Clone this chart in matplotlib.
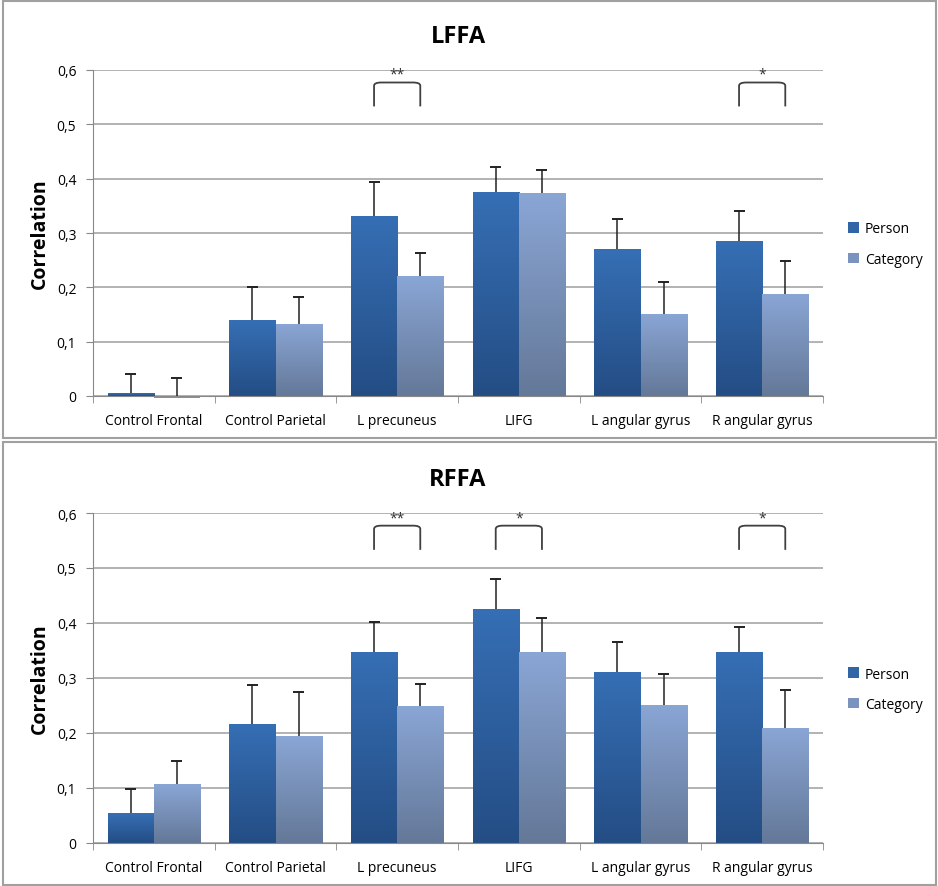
import numpy as np
import matplotlib.pyplot as plt
from matplotlib.patches import Rectangle, PathPatch
from matplotlib.path import Path
from matplotlib.colors import LinearSegmentedColormap

plt.rcParams['font.family'] = ['Open Sans', 'DejaVu Sans']

regions = ["Control Frontal", "Control Parietal", "L precuneus", "LIFG",
           "L angular gyrus", "R angular gyrus"]
yticks = [0, 0.1, 0.2, 0.3, 0.4, 0.5, 0.6]
ytick_labels = ["0", "0,1", "0,2", "0,3", "0,4", "0,5", "0,6"]

# LFFA
lffa_person = [0.005, 0.139, 0.332, 0.376, 0.270, 0.286]
lffa_person_err = [0.035, 0.061, 0.061, 0.045, 0.056, 0.054]
lffa_category = [-0.003, 0.133, 0.220, 0.373, 0.151, 0.188]
lffa_category_err = [0.036, 0.049, 0.043, 0.043, 0.059, 0.060]
lffa_sig = {2: "**", 5: "*"}

# RFFA
rffa_person = [0.054, 0.217, 0.348, 0.426, 0.311, 0.348]
rffa_person_err = [0.045, 0.071, 0.053, 0.054, 0.055, 0.045]
rffa_category = [0.107, 0.194, 0.249, 0.348, 0.251, 0.210]
rffa_category_err = [0.043, 0.080, 0.041, 0.061, 0.057, 0.069]
rffa_sig = {2: "**", 3: "*", 5: "*"}

person_cmap = LinearSegmentedColormap.from_list("p", ["#244d84", "#366fb5"])
category_cmap = LinearSegmentedColormap.from_list("c", ["#647898", "#8aa6d5"])

W, H = 938, 887
fig = plt.figure(figsize=(W / 100, H / 100), dpi=100)


def gradient_bars(ax, bars, cmap):
    grad = np.linspace(0, 1, 256).reshape(-1, 1)
    for b in bars:
        x0, y0 = b.get_x(), b.get_y()
        w, h = b.get_width(), b.get_height()
        if abs(h) < 0.004:
            # too thin for a gradient, keep it as a flat sliver
            b.set_facecolor(cmap(0.6))
            b.set_clip_on(False)
            continue
        im = ax.imshow(grad, cmap=cmap, origin='lower', aspect='auto',
                       extent=(x0, x0 + w, y0, y0 + h), zorder=2)
        im.set_clip_path(b)
        b.set_facecolor('none')


def bracket(ax, x1, x2, y_top, y_bot, label):
    r = 0.06
    ry = 0.006
    verts = [(x1, y_bot), (x1, y_top - ry), (x1, y_top), (x1 + r, y_top),
             (x2 - r, y_top), (x2, y_top), (x2, y_top - ry), (x2, y_bot)]
    codes = [Path.MOVETO, Path.LINETO, Path.CURVE3, Path.CURVE3,
             Path.LINETO, Path.CURVE3, Path.CURVE3, Path.LINETO]
    ax.add_patch(PathPatch(Path(verts, codes), fill=False, edgecolor='#404040',
                           lw=1.3, zorder=4))
    ax.text((x1 + x2) / 2, y_top + 0.001, label, ha='center', va='bottom',
            fontsize=10, color='#303030', zorder=4)


def panel(rect, title, person, person_err, category, category_err, sig):
    ax = fig.add_axes(rect)
    x = np.arange(len(regions))
    w = 0.38
    bp = ax.bar(x - w / 2, person, w, color=person_cmap(0.6), zorder=2)
    bc = ax.bar(x + w / 2, category, w, color=category_cmap(0.6), zorder=2)
    gradient_bars(ax, bp, person_cmap)
    gradient_bars(ax, bc, category_cmap)
    # upper error bars only, cap at the top
    for xs, vals, errs in ((x - w / 2, person, person_err),
                           (x + w / 2, category, category_err)):
        tops = np.array(vals) + np.array(errs)
        ax.vlines(xs, vals, tops, color='#222222', lw=1.1, zorder=3)
        ax.hlines(tops, xs - 0.045, xs + 0.045, color='#222222', lw=1.4,
                  zorder=3)
    for i, lab in sig.items():
        bracket(ax, i - w / 2, i + w / 2, 0.577, 0.533, lab)

    ax.set_xlim(-0.5, len(regions) - 0.5)
    ax.set_ylim(0, 0.6)
    ax.set_yticks(yticks)
    ax.set_yticklabels(ytick_labels, fontsize=10)
    ax.set_xticks(x)
    ax.set_xticklabels(regions, fontsize=10)
    ax.set_xticks(np.arange(len(regions) + 1) - 0.5, minor=True)
    ax.tick_params(axis='x', which='major', length=0, pad=12)
    ax.tick_params(axis='x', which='minor', length=5, color='#888888')
    ax.tick_params(axis='y', length=5, color='#888888', pad=7)
    ax.yaxis.grid(True, color='#a6a6a6', lw=1.2, zorder=0)
    ax.set_axisbelow(True)
    for s in ('top', 'right'):
        ax.spines[s].set_visible(False)
    ax.spines['left'].set_color('#888888')
    ax.spines['bottom'].set_color('#888888')
    ax.set_ylabel("Correlation", fontsize=14, fontweight='bold', labelpad=5)
    ax.set_title(title, fontsize=17, fontweight='bold', pad=20)
    ax.legend([Rectangle((0, 0), 1, 1, fc=person_cmap(0.7)),
               Rectangle((0, 0), 1, 1, fc=category_cmap(0.6))],
              ["Person", "Category"], loc='center left',
              bbox_to_anchor=(1.0, 0.466), frameon=False, fontsize=10,
              handlelength=0.8, handleheight=0.8, handletextpad=0.4,
              labelspacing=1.1, borderaxespad=1.4)
    return ax


panel([93 / W, 1 - 397 / H, 730 / W, 326 / H], "LFFA",
      lffa_person, lffa_person_err, lffa_category, lffa_category_err, lffa_sig)
panel([93 / W, 1 - 844 / H, 730 / W, 330 / H], "RFFA",
      rffa_person, rffa_person_err, rffa_category, rffa_category_err, rffa_sig)

# gray frames around each chart
for y0, y1 in ((2, 439), (443, 886)):
    fig.patches.append(Rectangle((3 / W, 1 - y1 / H), 933 / W, (y1 - y0) / H,
                                 transform=fig.transFigure, fill=False,
                                 edgecolor='#a0a0a0', lw=1.5))

fig.savefig("out.png", dpi=100)
